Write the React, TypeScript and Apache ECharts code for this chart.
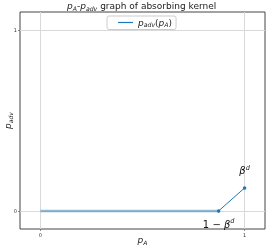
import React, { useEffect, useRef } from "react";
import * as echarts from "echarts";

const betaD = 0.127;
const flatX = [0, 1 - betaD];
const flatY = [0, 0];
const riseX = [1 - betaD, 1];
const riseY = [0, betaD];
const xTicks = [0, 1];
const yTicks = [0, 1];
const legendName = "padv(pA)";

export default function App() {
  const ref = useRef<HTMLDivElement>(null);
  useEffect(() => {
    if (!ref.current) return;
    const chart = echarts.init(ref.current, undefined, { renderer: "svg" });
    const font = "DejaVu Sans";
    const mk = (big: number, small: number, drop: number) => ({
      i: { fontStyle: "italic", fontSize: big, fontFamily: font, color: "#222", fontWeight: "normal" },
      s: { fontStyle: "italic", fontSize: small, fontFamily: font, color: "#222", padding: [drop, 0, 0, 0], fontWeight: "normal" },
      t: { fontSize: big, fontFamily: font, color: "#222", fontWeight: "normal" },
    });
    const annRich = {
      n: { fontStyle: "italic", fontSize: 10, fontFamily: font, color: "#111" },
      m: { fontSize: 10, fontFamily: font, color: "#111" },
      sup: { fontStyle: "italic", fontSize: 6.5, fontFamily: font, color: "#111", padding: [0, 0, 6, 0] },
    };
    chart.setOption({
      animation: false,
      title: {
        text: "{i|p}{s|A}{t|-}{i|p}{s|adv}{t| graph of absorbing kernel}",
        left: 67,
        top: 0,
        textStyle: { rich: mk(9, 6.2, 4), fontSize: 9, fontFamily: font, fontWeight: "normal" },
        padding: [1, 0, 0, 0],
      },
      legend: {
        data: [legendName],
        top: 16,
        left: 107,
        icon: "rect",
        itemWidth: 15,
        itemHeight: 1.2,
        itemGap: 4,
        borderColor: "#cccccc",
        borderWidth: 1,
        borderRadius: 2,
        padding: [2, 4, 2, 11],
        formatter: () => "{i|p}{s|adv}{t|(}{i|p}{s|A}{t|)}",
        textStyle: { rich: mk(9, 6.2, 4), fontSize: 9, fontFamily: font },
      },
      grid: {
        left: 20, right: 4, top: 12, bottom: 20,
        containLabel: false,
        outerBoundsMode: "none",
        show: true, borderColor: "#444", borderWidth: 1, backgroundColor: "transparent",
      },
      xAxis: {
        type: "value",
        min: -0.1,
        max: 1.1,
        name: "{i|p}{s|A}",
        nameLocation: "middle",
        nameGap: 6,
        nameMoveOverlap: false,
        nameTextStyle: { rich: mk(9, 6, 4) },
        axisLine: { show: false, onZero: false },
        axisTick: { show: true, customValues: xTicks, length: 2, lineStyle: { color: "#444", width: 0.6 } },
        axisLabel: { customValues: xTicks, fontSize: 5, fontFamily: font, color: "#333", margin: 3 },
        splitLine: { show: false },
      },
      yAxis: {
        type: "value",
        min: -0.1,
        max: 1.1,
        name: "{i|p}{s|adv}",
        nameLocation: "middle",
        nameGap: 7,
        nameMoveOverlap: false,
        nameRotate: 90,
        nameTextStyle: { rich: mk(9, 6, 4) },
        axisLine: { show: false, onZero: false },
        axisTick: { show: true, customValues: yTicks, length: 2, lineStyle: { color: "#444", width: 0.6 } },
        axisLabel: { customValues: yTicks, fontSize: 5, fontFamily: font, color: "#333", margin: 3 },
        splitLine: { show: false },
      },
      series: [
        {
          name: "grid",
          type: "line",
          data: [],
          silent: true,
          z: 0,
          markLine: {
            silent: true,
            symbol: "none",
            z: 0,
            label: { show: false },
            lineStyle: { color: "#d9d9d9", width: 1, type: "solid" },
            data: [
              ...xTicks.map((v) => ({ xAxis: v })),
              ...yTicks.map((v) => ({ yAxis: v })),
            ],
          },
        },
        {
          name: "flat",
          type: "line",
          z: 3,
          data: flatX.map((x, i) => [x, flatY[i]]),
          showSymbol: false,
          lineStyle: { color: "#1f77b4", opacity: 0.5, width: 2.5 },
          itemStyle: { color: "#1f77b4" },
        },
        {
          name: legendName,
          type: "line",
          z: 4,
          data: riseX.map((x, i) => ({
            value: [x, riseY[i]],
            label: {
              show: true,
              position: i === 0 ? "bottom" : "top",
              distance: i === 0 ? 5 : 9,
              formatter: i === 0 ? "{m|1 − }{n|β}{sup|d}" : "{n|β}{sup|d}",
              rich: annRich,
            },
          })),
          symbol: "circle",
          symbolSize: 3.5,
          showSymbol: true,
          lineStyle: { color: "#1f77b4", width: 1 },
          itemStyle: { color: "#1f77b4" },
        },
      ],
    });
    return () => chart.dispose();
  }, []);
  return <div ref={ref} style={{ position: "fixed", left: 0, top: 0, width: 269, height: 249 }} />;
}
